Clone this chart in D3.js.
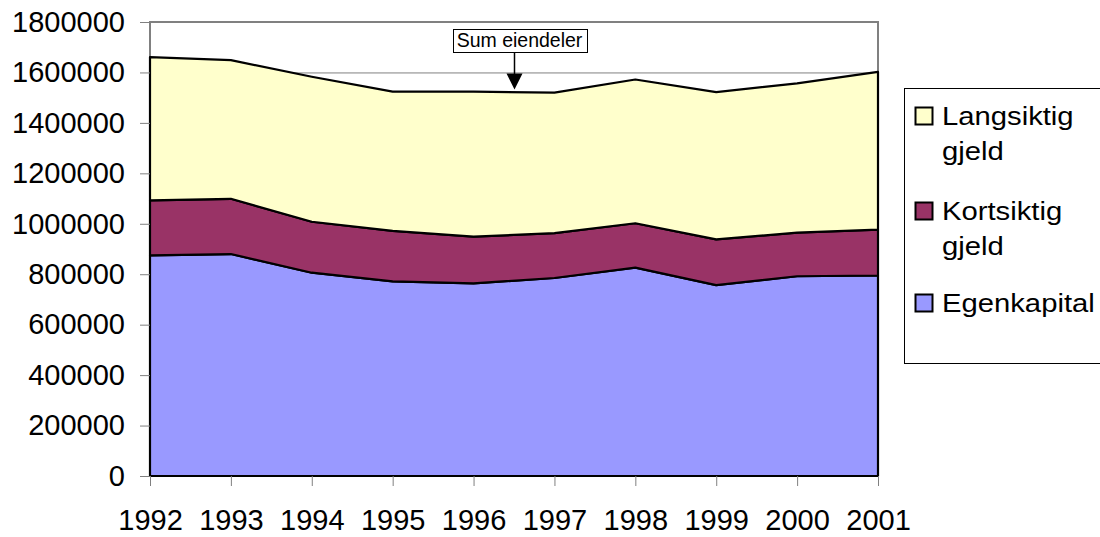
<!DOCTYPE html>
<html>
<head>
<meta charset="utf-8">
<script src="https://cdn.jsdelivr.net/npm/d3@7"></script>
<style>
    body { margin: 0; background: #fff; }
    text { font-family: "Liberation Sans", Arial, sans-serif; fill: #000; }
</style>
</head>
<body>
<div id="svg"></div>
<script>
// år på x-aksen
var years = [1992, 1993, 1994, 1995, 1996, 1997, 1998, 1999, 2000, 2001];
// serier (stablet nedenfra)
var egenkapital = [875000, 880000, 806000, 772000, 764000, 785000, 826000, 757000, 792000, 795000];
var kortsiktig = [218000, 219000, 202000, 200000, 185000, 178000, 176000, 181000, 173000, 182000];
var langsiktig = [568000, 550000, 575000, 552000, 575000, 557000, 570000, 584000, 592000, 625000];
var seriesNames = ['Egenkapital', 'Kortsiktig gjeld', 'Langsiktig gjeld'];
var seriesColors = ['#9999ff', '#993366', '#ffffcc'];
var yTicks = [0, 200000, 400000, 600000, 800000, 1000000, 1200000, 1400000, 1600000, 1800000];
var annotationText = 'Sum eiendeler';
var annotationYear = 1996.5;

var width = 1100;
var height = 537;
var plot = { left: 150, right: 878, top: 22, bottom: 476 };

var svg = d3.select('#svg')
    .append('svg')
    .attr('width', width + 'px')
    .attr('height', height + 'px');

// tabell for d3.stack
var rows = years.map(function (y, i) {
    return { year: y, e: egenkapital[i], k: kortsiktig[i], l: langsiktig[i] };
});
var stack = d3.stack().keys(['e', 'k', 'l']);
var layers = stack(rows);

var xScale = d3.scaleLinear()
    .domain([years[0], years[years.length - 1]])
    .range([plot.left, plot.right]);
var yScale = d3.scaleLinear()
    .domain([0, 1800000])
    .range([plot.bottom, plot.top]);

// rutenett
svg.append('g')
    .selectAll('line')
    .data(yTicks)
    .enter()
    .append('line')
    .attr('x1', plot.left)
    .attr('x2', plot.right)
    .attr('y1', function (d) { return yScale(d) + 0.5; })
    .attr('y2', function (d) { return yScale(d) + 0.5; })
    .attr('stroke', '#808080')
    .attr('stroke-width', 1);
// ramme
svg.append('path')
    .attr('d', 'M' + plot.left + ',' + plot.bottom + 'V' + plot.top + 'H' + plot.right + 'V' + plot.bottom)
    .attr('fill', 'none')
    .attr('stroke', '#808080')
    .attr('stroke-width', 2);

// arealer
var area = d3.area()
    .x(function (d) { return xScale(d.data.year); })
    .y0(function (d) { return yScale(d[0]); })
    .y1(function (d) { return yScale(d[1]); });

svg.append('g')
    .selectAll('path')
    .data(layers)
    .enter()
    .append('path')
    .attr('d', area)
    .attr('fill', function (d, i) { return seriesColors[i]; })
    .attr('stroke', '#000')
    .attr('stroke-width', 2.2)
    .attr('stroke-linejoin', 'round');

// akser
var yAxis = d3.axisLeft(yScale)
    .tickValues(yTicks)
    .tickFormat(d3.format('d'))
    .tickSize(10)
    .tickPadding(15);
var gy = svg.append('g')
    .attr('transform', 'translate(' + plot.left + ',0)')
    .call(yAxis);
gy.select('.domain').remove();
gy.selectAll('line').attr('stroke', '#808080');
gy.selectAll('text')
    .attr('font-size', '29px')
    .attr('font-family', '"Liberation Sans", Arial, sans-serif');

var xAxis = d3.axisBottom(xScale)
    .tickValues(years)
    .tickFormat(d3.format('d'))
    .tickSize(10)
    .tickPadding(23);
var gx = svg.append('g')
    .attr('transform', 'translate(0,' + plot.bottom + ')')
    .call(xAxis);
gx.select('.domain').remove();
gx.selectAll('line').attr('stroke', '#808080');
gx.selectAll('text')
    .attr('font-size', '29px')
    .attr('font-family', '"Liberation Sans", Arial, sans-serif');

// merknad med pil
var ax = Math.round(xScale(annotationYear)) + 0.5;
var tipY = yScale(1520000) - 3;
var ann = svg.append('g');
var annLabel = ann.append('text')
    .attr('x', ax + 5)
    .attr('y', 47)
    .attr('text-anchor', 'middle')
    .attr('font-size', '19.5px')
    .text(annotationText);
var bb = annLabel.node().getBBox();
ann.insert('rect', 'text')
    .attr('x', Math.round(bb.x - 4) + 0.5)
    .attr('y', 29.5)
    .attr('width', Math.round(bb.width + 8))
    .attr('height', 23)
    .attr('fill', '#fff')
    .attr('stroke', '#000')
    .attr('stroke-width', 1);
ann.append('line')
    .attr('x1', ax).attr('x2', ax)
    .attr('y1', 53).attr('y2', tipY - 14)
    .attr('stroke', '#000')
    .attr('stroke-width', 1.5);
ann.append('path')
    .attr('d', 'M' + (ax - 8) + ',' + (tipY - 16) + 'L' + (ax + 8) + ',' + (tipY - 16) + 'L' + ax + ',' + tipY + 'Z')
    .attr('fill', '#000');

// forklaring
var legend = svg.append('g');
legend.append('rect')
    .attr('x', 904.5)
    .attr('y', 88.5)
    .attr('width', 200)
    .attr('height', 275)
    .attr('fill', '#fff')
    .attr('stroke', '#000')
    .attr('stroke-width', 1);

var legendItems = [
    { i: 2, y: 125 },
    { i: 1, y: 220 },
    { i: 0, y: 312 }
];
legendItems.forEach(function (it) {
    legend.append('rect')
        .attr('x', 915.5)
        .attr('y', it.y - 17.5)
        .attr('width', 17)
        .attr('height', 17)
        .attr('fill', seriesColors[it.i])
        .attr('stroke', '#000')
        .attr('stroke-width', 2);
    var words = seriesNames[it.i].split(' ');
    words.forEach(function (w, j) {
        legend.append('text')
            .attr('transform', 'translate(942,' + (it.y + j * 35) + ') scale(1.17,1)')
            .attr('font-size', '25px')
            .text(w);
    });
});
</script>
</body>
</html>
